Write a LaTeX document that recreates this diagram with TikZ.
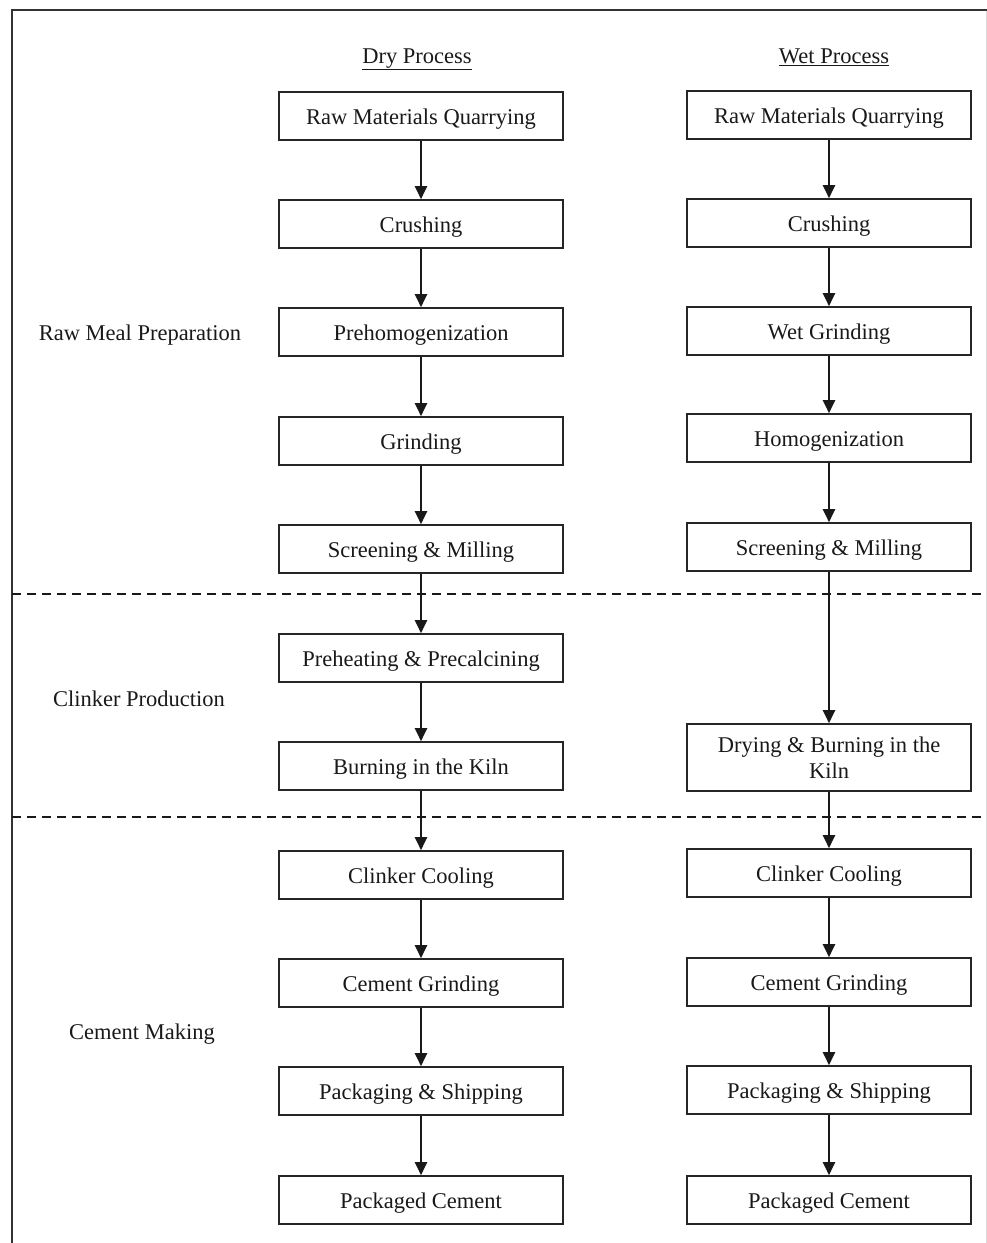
\documentclass[tikz,border=0pt]{standalone}
\usepackage{fontspec}
\setmainfont{Liberation Serif}
\usetikzlibrary{arrows.meta}
\begin{document}
\begin{tikzpicture}[x=1pt,y=-1pt,
  txt/.style={font=\fontsize{22.5}{26}\selectfont, text=black!90, inner sep=0pt},
  stepbox/.style={draw=black!85, line width=1.6pt, minimum width=284pt, minimum height=48pt, inner sep=0pt, text height=16pt, text depth=0pt, align=center, font=\fontsize{22.5}{26}\selectfont, text=black!90},
  twoline/.style={draw=black!85, line width=1.6pt, minimum width=284pt, minimum height=67pt, inner sep=0pt, align=center, font=\fontsize{22.5}{26}\selectfont, text=black!90},
  flow/.style={line width=2pt, draw=black!90, -{Triangle[length=13pt,width=12pt]}},
  sep/.style={line width=2pt, draw=black!90, dash pattern=on 9pt off 6pt}]
\useasboundingbox (0,0) rectangle (987,1243);
% frame
\draw[line width=2pt, draw=black!80] (12,1243) -- (12,10) -- (987,10);
\draw[line width=0.6pt, draw=black!15] (986,11) -- (986,1243);
% titles
\node[txt, anchor=base] (tdry) at (417,63) {\underline{Dry Process}};
\node[txt, anchor=base] (twet) at (834,63) {\underline{Wet Process}};
% section labels
\node[txt, anchor=base] (l1) at (140,340) {Raw Meal Preparation};
\node[txt, anchor=base] (l2) at (139,706) {Clinker Production};
\node[txt, anchor=base] (l3) at (142,1039) {Cement Making};
% separators
\draw[sep] (12,594) -- (987,594);
\draw[sep] (12,817) -- (987,817);
% dry column
\node[stepbox] (d1) at (421,116) {Raw Materials Quarrying};
\node[stepbox] (d2) at (421,224) {Crushing};
\node[stepbox] (d3) at (421,332) {Prehomogenization};
\node[stepbox] (d4) at (421,441) {Grinding};
\node[stepbox] (d5) at (421,549) {Screening \& Milling};
\node[stepbox] (d6) at (421,658) {Preheating \& Precalcining};
\node[stepbox] (d7) at (421,766) {Burning in the Kiln};
\node[stepbox] (d8) at (421,875) {Clinker Cooling};
\node[stepbox] (d9) at (421,983) {Cement Grinding};
\node[stepbox] (d10) at (421,1091) {Packaging \& Shipping};
\node[stepbox] (d11) at (421,1200) {Packaged Cement};
% wet column
\node[stepbox] (w1) at (829,115) {Raw Materials Quarrying};
\node[stepbox] (w2) at (829,223) {Crushing};
\node[stepbox] (w3) at (829,331) {Wet Grinding};
\node[stepbox] (w4) at (829,438) {Homogenization};
\node[stepbox] (w5) at (829,547) {Screening \& Milling};
\node[twoline] (w6) at (829,757.5) {Drying \& Burning in the\\Kiln};
\node[stepbox] (w7) at (829,873) {Clinker Cooling};
\node[stepbox] (w8) at (829,982) {Cement Grinding};
\node[stepbox] (w9) at (829,1090) {Packaging \& Shipping};
\node[stepbox] (w10) at (829,1200) {Packaged Cement};
% arrows
\foreach \a/\b in {d1/d2,d2/d3,d3/d4,d4/d5,d5/d6,d6/d7,d7/d8,d8/d9,d9/d10,d10/d11,
                   w1/w2,w2/w3,w3/w4,w4/w5,w5/w6,w6/w7,w7/w8,w8/w9,w9/w10}
  \draw[flow] (\a.south) -- (\b.north);
\end{tikzpicture}
\end{document}
